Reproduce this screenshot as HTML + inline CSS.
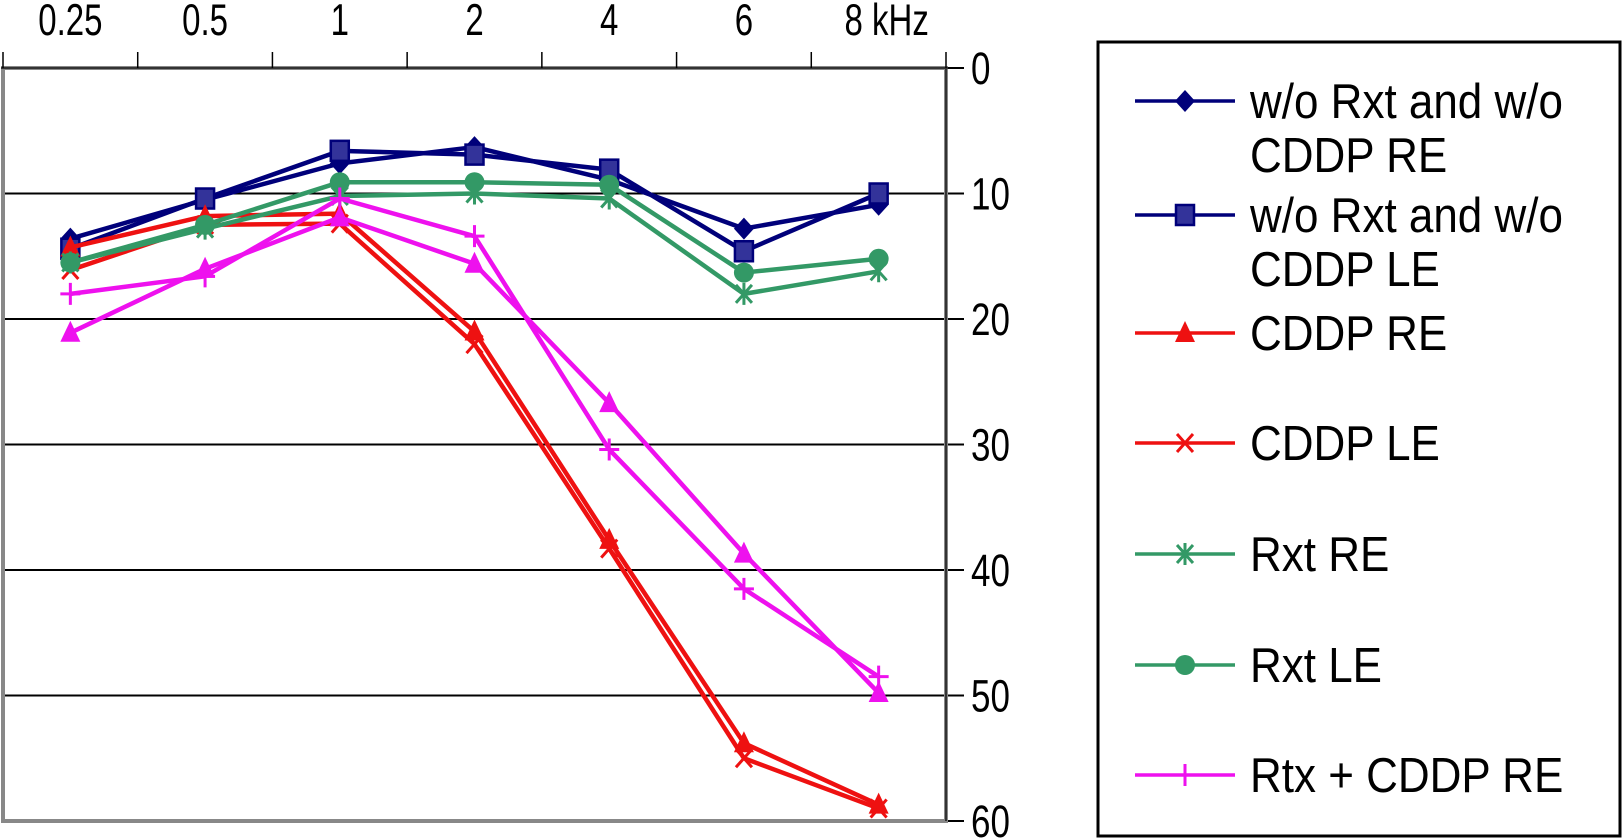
<!DOCTYPE html>
<html><head><meta charset="utf-8"><style>
html,body{margin:0;padding:0;background:#fff;}
svg{display:block;font-family:"Liberation Sans",sans-serif;}
</style></head><body>
<svg id="chart" width="1624" height="839" viewBox="0 0 1624 839">
<g id="grid"></g>
<g id="axes"></g>
<g id="series"></g>
<g id="legend"></g>
</svg>
<script>
const categories = ["0.25","0.5","1","2","4","6","8 kHz"];
const yTicks = [0,10,20,30,40,50,60];
const woRE = [13.6,10.5,7.6,6.3,8.9,12.8,10.9];
const woLE = [14.4,10.4,6.6,6.9,8.1,14.6,10.0];
const cddpRE = [14.3,11.8,11.6,21.0,37.6,53.8,58.7];
const cddpLE = [16.1,12.5,12.4,22.0,38.3,55.0,59.0];
const rxtRE = [15.5,12.8,10.2,10.0,10.4,18.0,16.2];
const rxtLE = [15.5,12.5,9.1,9.1,9.3,16.3,15.2];
const rtxRE = [18.0,16.6,10.4,13.4,30.4,41.5,48.5];
const rtxLE = [21.1,16.0,11.9,15.6,26.7,38.7,49.8];

const NS="http://www.w3.org/2000/svg";
const X0=3, X1=946, Y0=68, Y1=821;
const step=(X1-X0)/categories.length;
function xs(i){return X0+step*(i+0.5);}
function ys(v){return Y0+(v-0)/60*(Y1-Y0);}
function mk(tag,attrs,parent){const e=document.createElementNS(NS,tag);for(const k in attrs)e.setAttribute(k,attrs[k]);parent.appendChild(e);return e;}
const grid=document.getElementById('grid'), axes=document.getElementById('axes'), ser=document.getElementById('series'), leg=document.getElementById('legend');

yTicks.forEach(t=>{
  const y=ys(t);
  if(t>0&&t<60){const l=mk('line',{x1:X0,x2:X1,y1:y,y2:y,stroke:'#000','stroke-width':2},grid);
    
    }
  const tk=mk('line',{x1:X1,x2:X1+18,y1:y,y2:y,stroke:'#000','stroke-width':2},axes);
  
  
  const tx=mk('text',{x:0,y:0,'font-size':35,fill:'#000',transform:`translate(971,${y+16}) scale(1,1.3)`},axes);
  tx.textContent=t;
  
  
});
let f=mk('rect',{x:X0,y:Y0,width:X1-X0,height:Y1-Y0,fill:'none',stroke:'#888','stroke-width':4},axes);


let ax=mk('line',{x1:X0-2,x2:X1+2,y1:Y0,y2:Y0,stroke:'#333','stroke-width':2},axes);


let ay=mk('line',{x1:X1,x2:X1,y1:Y0,y2:Y1,stroke:'#333','stroke-width':2},axes);


for(let i=0;i<=categories.length;i++){
  const x=X0+step*i;
  const t=mk('line',{x1:x,x2:x,y1:Y0,y2:Y0-16,stroke:'#000','stroke-width':1.5},axes);
  
  
}
categories.forEach((c,i)=>{
  const t=mk('text',{x:0,y:0,'font-size':33,'text-anchor':'middle',fill:'#000',transform:`translate(${xs(i)+(i===6?8:0)},35) scale(1,1.35)`},axes);
  t.textContent=c;
  
  
});

function marker(type,x,y,color,g){
  let e;
  if(type==='diamond') e=mk('path',{d:`M${x} ${y-11}L${x+10} ${y}L${x} ${y+11}L${x-10} ${y}Z`,fill:color},g);
  else if(type==='square') e=mk('rect',{x:x-9,y:y-10,width:18,height:20,fill:'#33339a',stroke:'#00007a','stroke-width':2.5},g);
  else if(type==='triangle') e=mk('path',{d:`M${x} ${y-12}L${x+10} ${y+9}L${x-10} ${y+9}Z`,fill:color},g);
  else if(type==='x') e=mk('path',{d:`M${x-8} ${y-9}L${x+8} ${y+9}M${x+8} ${y-9}L${x-8} ${y+9}`,stroke:color,'stroke-width':3,fill:'none'},g);
  else if(type==='star') e=mk('path',{d:`M${x-8} ${y-9}L${x+8} ${y+9}M${x+8} ${y-9}L${x-8} ${y+9}M${x} ${y-11}L${x} ${y+11}`,stroke:color,'stroke-width':3,fill:'none'},g);
  else if(type==='circle') e=mk('ellipse',{cx:x,cy:y,rx:10,ry:10,fill:color},g);
  else if(type==='plus') e=mk('path',{d:`M${x-10} ${y}L${x+10} ${y}M${x} ${y-11}L${x} ${y+11}`,stroke:color,'stroke-width':3,fill:'none'},g);
  return e;
}
const seriesDefs=[
 {name:'w/o Rxt and w/o CDDP RE',data:woRE,color:'#00007a',m:'diamond',key:'series-wo-re'},
 {name:'w/o Rxt and w/o CDDP LE',data:woLE,color:'#00007a',m:'square',key:'series-wo-le'},
 {name:'CDDP RE',data:cddpRE,color:'#ee1111',m:'triangle',key:'series-cddp-re'},
 {name:'CDDP LE',data:cddpLE,color:'#ee1111',m:'x',key:'series-cddp-le'},
 {name:'Rxt RE',data:rxtRE,color:'#339966',m:'star',key:'series-rxt-re'},
 {name:'Rxt LE',data:rxtLE,color:'#339966',m:'circle',key:'series-rxt-le'},
 {name:'Rtx + CDDP RE',data:rtxRE,color:'#ee11ee',m:'plus',key:'series-rtx-re'},
 {name:'Rtx + CDDP LE',data:rtxLE,color:'#ee11ee',m:'triangle',key:'series-rtx-le',noLegend:true}
];
seriesDefs.forEach(s=>{
  const g=mk('g',{},ser);
  
  
  const pts=s.data.map((v,i)=>xs(i)+','+ys(v)).join(' ');
  const pl=mk('polyline',{points:pts,fill:'none',stroke:s.color,'stroke-width':4.5,'stroke-linejoin':'round'},g);
  
  
  s.data.forEach((v,i)=>{
    const m=marker(s.m,xs(i),ys(v),s.color,g);
    
    
  });
});
const box=mk('rect',{x:1098,y:42,width:522,height:794,fill:'#fff',stroke:'#000','stroke-width':3},leg);


const legY=[101,215,333,443,554,665,775];
let li=0;
seriesDefs.forEach(s=>{
  if(s.noLegend) return;
  const y=legY[li++];
  const g=mk('g',{},leg);
  
  
  mk('line',{x1:1135,x2:1235,y1:y,y2:y,stroke:s.color,'stroke-width':3.5},g);
  marker(s.m,1185,y,s.color,g);
  if(s.name.startsWith('w/o')){
    const parts=['w/o Rxt and w/o', s.name.replace('w/o Rxt and w/o ','')];
    parts.forEach((p,k)=>{const t=mk('text',{x:0,y:0,'font-size':44,fill:'#000',transform:`translate(1250,${y+17+k*54}) scale(1,1.12)`},g);t.textContent=p;});
  } else {
    const t=mk('text',{x:0,y:0,'font-size':44,fill:'#000',transform:`translate(1250,${y+17}) scale(1,1.12)`},g);
    t.textContent=s.name;
  }
});
</script>
</body></html>
